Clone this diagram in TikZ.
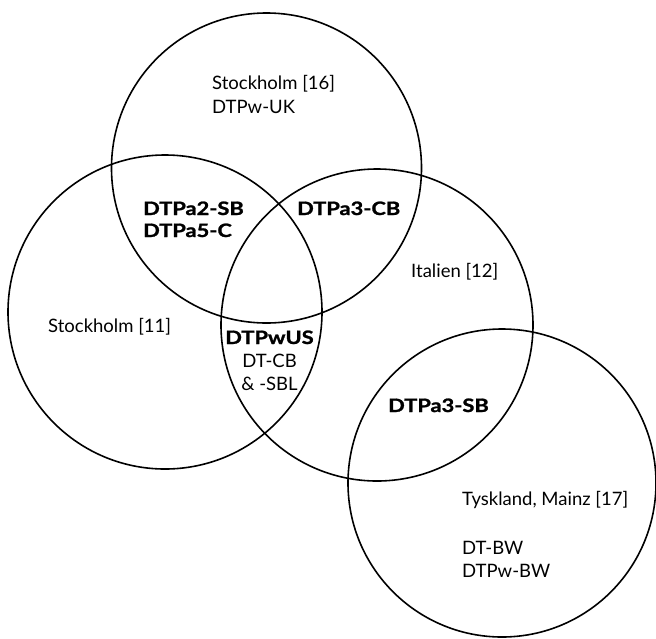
\documentclass[tikz,border=0pt]{standalone}
\usepackage{fontspec}
\usepackage{graphicx}
\setmainfont{Lato}[BoldFeatures={FakeBold=1.2}]
\newcommand{\bx}[1]{\scalebox{1.18}[1]{\bfseries #1}}
\begin{document}
\begin{tikzpicture}[x=1pt,y=-1pt,
  ring/.style={draw=black,line width=1.6pt},
  lbl/.style={inner sep=0pt,font=\fontsize{18.5}{22}\selectfont,anchor=base west},
  clbl/.style={inner sep=0pt,font=\fontsize{18.5}{22}\selectfont,anchor=base}]
\useasboundingbox (0,0) rectangle (656,638);
\fill[white] (0,0) rectangle (656,638);
% circles
\draw[ring] (266.5,168) circle [radius=155pt];
\draw[ring] (165,312) circle [radius=157pt];
\draw[ring] (377,325) circle [radius=156pt];
\draw[ring] (502,483) circle [radius=154pt];
% texts
\node[lbl] (s16) at (212,89) {Stockholm [16]};
\node[lbl] (uk) at (212,113) {DTPw-UK};
\node[lbl] (a2) at (143,215) {\bx{DTPa2-SB}};
\node[lbl] (a5) at (143,237) {\bx{DTPa5-C}};
\node[lbl] (a3cb) at (297,215) {\bx{DTPa3-CB}};
\node[lbl] (it) at (411,277) {Italien [12]};
\node[lbl] (s11) at (48,332) {Stockholm [11]};
\node[clbl] (us) at (269.5,344) {\bx{DTPwUS}};
\node[clbl] (dtcb) at (269.5,367) {DT-CB};
\node[clbl] (sbl) at (269.5,390) {\& -SBL};
\node[lbl] (a3sb) at (388,412) {\bx{DTPa3-SB}};
\node[lbl] (ty) at (462,505) {Tyskland, Mainz [17]};
\node[lbl] (bw) at (462,554) {DT-BW};
\node[lbl] (pbw) at (462,577) {DTPw-BW};
\end{tikzpicture}
\end{document}
